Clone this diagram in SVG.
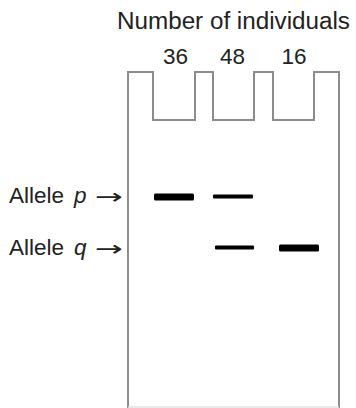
<svg xmlns="http://www.w3.org/2000/svg" width="356" height="408" viewBox="0 0 356 408">
<style>
  .t { font-family: "Liberation Sans", Arial, sans-serif; fill: #222; }
  .arr { font-family: "DejaVu Sans", sans-serif; fill: #222; font-size: 21px; }
  .gel { fill: none; stroke: #8c8c8c; stroke-width: 2; stroke-linejoin: miter; }
  .band { fill: #000; }
</style>
<rect width="356" height="408" fill="#fff"/>
<g id="title">
  <text class="t" x="117" y="28.5" font-size="23.5" textLength="233" lengthAdjust="spacingAndGlyphs">Number of individuals</text>
</g>
<g id="counts">
  <text class="t" x="175.5" y="63.5" font-size="22.5" text-anchor="middle">36</text>
  <text class="t" x="232.5" y="63.5" font-size="22.5" text-anchor="middle">48</text>
  <text class="t" x="294" y="63.5" font-size="22.5" text-anchor="middle">16</text>
</g>
<g id="gel">
  <path class="gel" d="M128,410 V72 H153 V120 H195 V72 H213 V120 H254 V72 H273 V120 H314 V72 H339 V410"/>
  <line x1="128" y1="407" x2="339" y2="407" stroke="#e2e2e2" stroke-width="1.5"/>
</g>
<g id="bands">
  <rect class="band" x="154" y="193.5" width="40" height="7" rx="1.5"/>
  <rect class="band" x="213" y="194.5" width="40" height="4" rx="1"/>
  <rect class="band" x="215" y="245.5" width="39" height="4" rx="1"/>
  <rect class="band" x="279" y="244.5" width="40" height="7" rx="1.5"/>
</g>
<g id="labels">
  <text class="t" x="9" y="203" font-size="22.5">Allele</text>
  <text class="t" x="74" y="203" font-size="22.5" font-style="italic">p</text>
  <text class="arr" x="95" y="204" textLength="28" lengthAdjust="spacingAndGlyphs">→</text>
  <text class="t" x="9" y="255" font-size="22.5">Allele</text>
  <text class="t" x="74" y="255" font-size="22.5" font-style="italic">q</text>
  <text class="arr" x="95" y="256" textLength="28" lengthAdjust="spacingAndGlyphs">→</text>
</g>
</svg>
